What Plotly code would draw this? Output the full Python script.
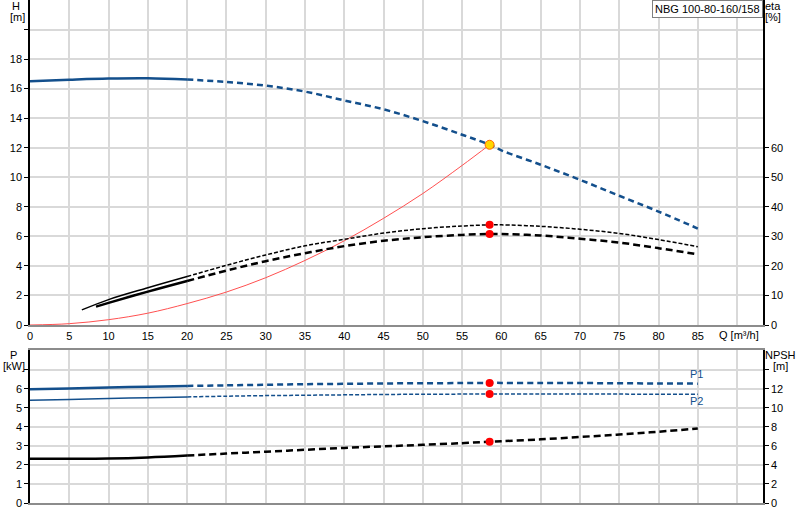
import plotly.graph_objects as go

# flow [m3/h] and head [m]
q_h = [0, 5, 10, 15, 20, 25, 30, 35, 40, 45, 50, 55, 58.5, 60, 65, 70, 75, 80, 85]
h = [16.5, 16.6, 16.68, 16.7, 16.62, 16.45, 16.2, 15.8, 15.2, 14.6, 13.8, 12.88, 12.2, 11.82, 10.85, 9.83, 8.75, 7.68, 6.53]

# system curve
q_sys = [0, 5, 10, 15, 20, 25, 30, 35, 40, 45, 50, 55, 58.5]
h_sys = [0, 0.09, 0.36, 0.8, 1.45, 2.23, 3.2, 4.37, 5.7, 7.22, 8.9, 10.8, 12.2]

# efficiencies [%]
q_eta1 = [6.6, 10, 15, 20, 25, 30, 35, 40, 45, 50, 55, 58.5, 60, 65, 70, 75, 80, 85]
eta1 = [5.1, 8.6, 12.6, 16.4, 20.2, 23.7, 26.8, 29.0, 31.1, 32.6, 33.5, 33.9, 33.9, 33.4, 32.4, 31.0, 28.9, 26.5]
q_eta2 = [8.4, 10, 15, 20, 25, 30, 35, 40, 45, 50, 55, 58.5, 60, 65, 70, 75, 80, 85]
eta2 = [6.2, 7.5, 11.3, 14.9, 18.4, 21.6, 24.3, 26.7, 28.5, 29.7, 30.5, 30.8, 30.8, 30.3, 29.2, 27.9, 26.0, 23.9]

# power [kW] and NPSH [m]
q_p = [0, 5, 10, 15, 20, 25, 30, 35, 40, 45, 50, 55, 58.5, 60, 65, 70, 75, 80, 85]
p1 = [5.98, 6.03, 6.08, 6.12, 6.16, 6.19, 6.22, 6.25, 6.27, 6.29, 6.3, 6.31, 6.32, 6.32, 6.31, 6.31, 6.3, 6.29, 6.28]
p2 = [5.4, 5.45, 5.5, 5.54, 5.58, 5.62, 5.65, 5.67, 5.69, 5.71, 5.72, 5.73, 5.74, 5.74, 5.74, 5.73, 5.73, 5.72, 5.72]
npsh = [4.65, 4.65, 4.68, 4.8, 5.0, 5.2, 5.4, 5.6, 5.8, 5.96, 6.12, 6.3, 6.44, 6.5, 6.7, 6.95, 7.2, 7.5, 7.83]

q_duty = 58.5
x_ticks = list(range(0, 95, 5))

blue = "#134f8c"
W, H_PX = 800, 520
L, R, T, B = 30, 37, 0, 17


def px(x, y):
    # pixel position -> paper coords
    return (x - L) / (W - L - R), (H_PX - B - y) / (H_PX - T - B)


def split(qs, vs, cut=20):
    a = [(q, v) for q, v in zip(qs, vs) if q <= cut]
    b = [(q, v) for q, v in zip(qs, vs) if q >= cut]
    return [p[0] for p in a], [p[1] for p in a], [p[0] for p in b], [p[1] for p in b]


fig = go.Figure()


def add_curve(qs, vs, color, width, dash, xa, ya):
    x1, y1, x2, y2 = split(qs, vs)
    if len(x1) > 1:
        fig.add_trace(go.Scatter(x=x1, y=y1, mode="lines", line=dict(color=color, width=width, shape="spline"),
                                 xaxis=xa, yaxis=ya, hoverinfo="skip"))
    fig.add_trace(go.Scatter(x=x2, y=y2, mode="lines", line=dict(color=color, width=width, dash=dash, shape="spline"),
                             xaxis=xa, yaxis=ya, hoverinfo="skip"))


def val_at(qs, vs, q):
    return vs[qs.index(q)]


# top panel
fig.add_trace(go.Scatter(x=q_sys, y=h_sys, mode="lines", line=dict(color="#ff5050", width=1, shape="spline"),
                         xaxis="x", yaxis="y", hoverinfo="skip"))
add_curve(q_h, h, blue, 2.5, "6px,4px", "x", "y")
add_curve(q_eta1, eta1, "black", 1.5, "4px,2px", "x", "y2")
add_curve(q_eta2, eta2, "black", 2.5, "7px,4px", "x", "y2")
fig.add_trace(go.Scatter(x=[q_duty], y=[val_at(q_h, h, q_duty)], mode="markers",
                         marker=dict(color="#ffd700", size=9, line=dict(color="#ff6600", width=1)),
                         xaxis="x", yaxis="y"))
fig.add_trace(go.Scatter(x=[q_duty, q_duty], y=[val_at(q_eta1, eta1, q_duty), val_at(q_eta2, eta2, q_duty)],
                         mode="markers", marker=dict(color="red", size=8), xaxis="x", yaxis="y2"))

# bottom panel
add_curve(q_p, p1, blue, 2.5, "6px,4px", "x2", "y3")
add_curve(q_p, p2, blue, 1.5, "4px,2px", "x2", "y3")
add_curve(q_p, npsh, "black", 2.5, "7px,4px", "x2", "y4")
fig.add_trace(go.Scatter(x=[q_duty] * 2, y=[val_at(q_p, p1, q_duty), val_at(q_p, p2, q_duty)], mode="markers",
                         marker=dict(color="red", size=8), xaxis="x2", yaxis="y3"))
fig.add_trace(go.Scatter(x=[q_duty], y=[val_at(q_p, npsh, q_duty)], mode="markers",
                         marker=dict(color="red", size=8), xaxis="x2", yaxis="y4"))

grid = "#d9d9d9"
tick_font = dict(family="Liberation Sans, Arial", size=11, color="black")
top_lo = px(0, 325)[1]
bot_hi = px(0, 350)[1]

fig.update_layout(
    width=W, height=H_PX,
    margin=dict(l=L, r=R, t=T, b=B),
    plot_bgcolor="white", paper_bgcolor="white",
    showlegend=False,
    font=tick_font,
    xaxis=dict(range=[0, 93.3], tickvals=x_ticks, ticktext=[str(v) if v < 90 else "" for v in x_ticks],
               showgrid=True, gridcolor=grid, gridwidth=1.5, showline=True, linecolor="#8c8c8c", linewidth=2,
               mirror=True, ticks="", zeroline=False, anchor="y", tickfont=tick_font, automargin=False),
    xaxis2=dict(range=[0, 93.3], tickvals=x_ticks, showticklabels=False, showgrid=True, gridcolor=grid,
                gridwidth=1.5, showline=True, linecolor="#8c8c8c", linewidth=1.5, mirror=True, ticks="",
                zeroline=False, anchor="y3", automargin=False),
    yaxis=dict(domain=[top_lo, 1], range=[0, 22], tickvals=list(range(0, 22, 2)),
               ticktext=[str(v) if v < 20 else "" for v in range(0, 22, 2)],
               showgrid=True, gridcolor=grid, gridwidth=1.5, showline=True, linecolor="black", linewidth=1.5,
               ticks="outside", ticklen=4, tickcolor="black", zeroline=False, anchor="x", tickfont=tick_font,
               automargin=False),
    yaxis2=dict(range=[0, 110], tickvals=list(range(0, 70, 10)), overlaying="y", side="right", anchor="x",
                showgrid=False, showline=True, linecolor="black", linewidth=1.5, ticks="outside", ticklen=4,
                tickcolor="black", zeroline=False, tickfont=tick_font, automargin=False),
    yaxis3=dict(domain=[0, bot_hi], range=[0, 8.05], tickvals=list(range(0, 8)),
                ticktext=[str(v) if v < 7 else "" for v in range(0, 8)],
                showgrid=True, gridcolor=grid, gridwidth=1.5, showline=True, linecolor="black", linewidth=1.5,
                ticks="outside", ticklen=4, tickcolor="black", zeroline=False, anchor="x2", tickfont=tick_font,
                automargin=False),
    yaxis4=dict(range=[0, 16.1], tickvals=list(range(0, 16, 2)),
                ticktext=[str(v) if v < 14 else "" for v in range(0, 16, 2)],
                overlaying="y3", side="right", anchor="x2", showgrid=False, showline=True, linecolor="black",
                linewidth=1.5, ticks="outside", ticklen=4, tickcolor="black", zeroline=False, tickfont=tick_font,
                automargin=False),
)

labels = [
    ("H", 16, 6), ("[m]", 17, 17),
    ("eta", 773, 6), ("[%]", 773, 17),
    ("Q [m³/h]", 739, 335),
    ("P", 13, 355), ("[kW]", 14, 366),
    ("NPSH", 780, 355), ("[m]", 780, 366),
]
for text, x, y in labels:
    ax, ay = px(x, y)
    fig.add_annotation(text=text, x=ax, y=ay, xref="paper", yref="paper", showarrow=False,
                       xanchor="center", yanchor="middle", font=tick_font)

for text, x, y in [("P1", 696, 374), ("P2", 696, 401)]:
    ax, ay = px(x, y)
    fig.add_annotation(text=text, x=ax, y=ay, xref="paper", yref="paper", showarrow=False,
                       xanchor="center", yanchor="middle", font=dict(family="Liberation Sans, Arial", size=11, color=blue))

# title box
fig.add_annotation(text="NBG 100-80-160/158", x=1, y=1, xref="paper", yref="paper", showarrow=False,
                   xanchor="right", yanchor="top", bgcolor="white", bordercolor="#7f7f7f", borderwidth=1,
                   borderpad=2, font=tick_font)

# page body margin would shift the chart by 8px
fig.write_html("out.html", config={"displayModeBar": False},
               post_script="document.body.style.margin='0';")
